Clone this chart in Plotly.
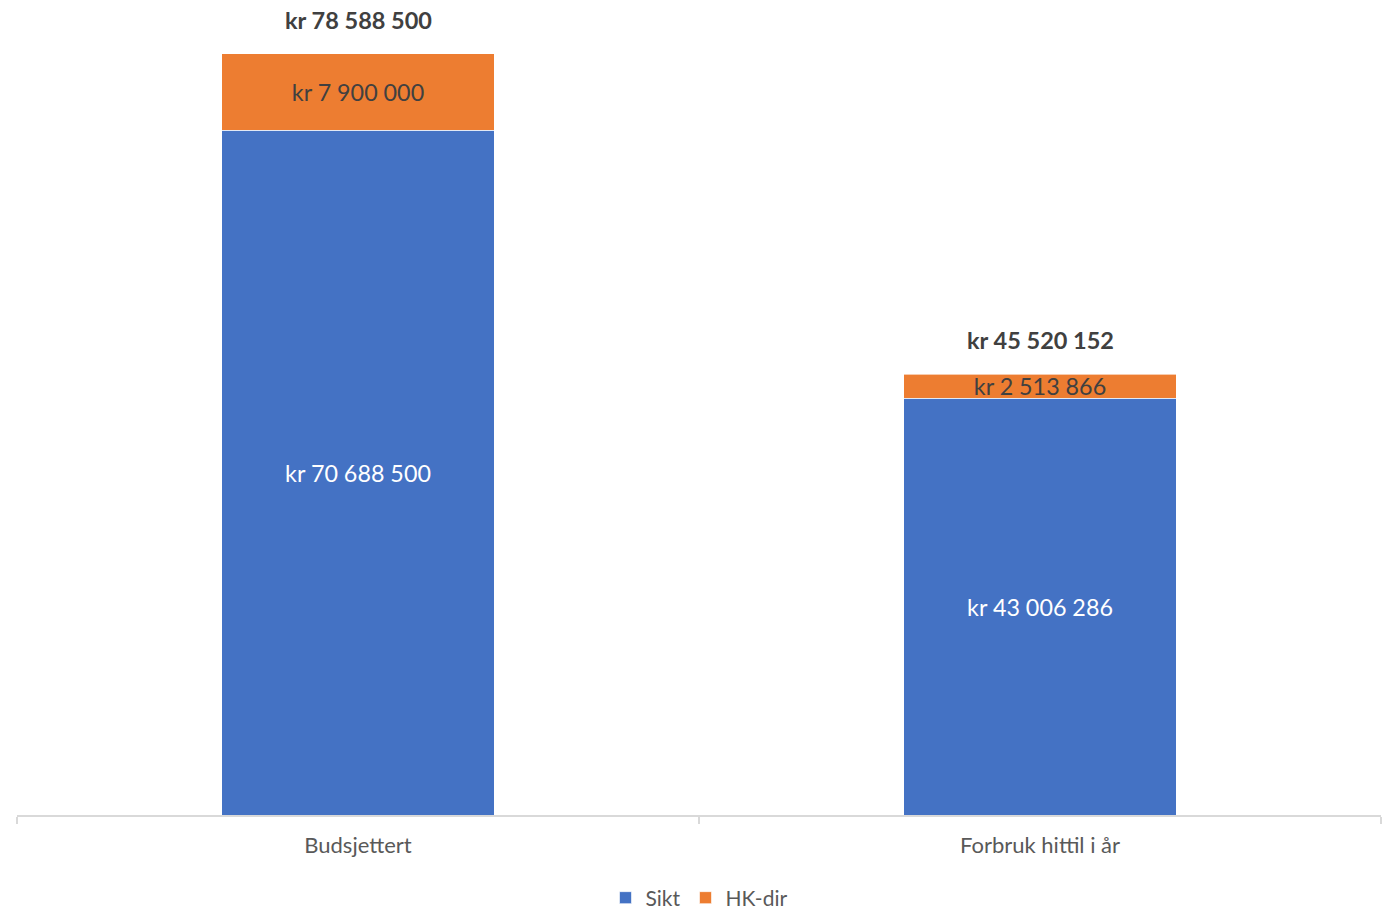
import plotly.graph_objects as go

categories = ["Budsjettert", "Forbruk hittil i år"]
sikt = [70688500, 43006286]
hkdir = [7900000, 2513866]
totals = [s + h for s, h in zip(sikt, hkdir)]

def kr(v):
    return "kr " + f"{v:,}".replace(",", " ")

FONT = "Lato"
fig = go.Figure()
fig.add_trace(go.Bar(
    name="Sikt", x=categories, y=sikt,
    marker=dict(color="#4472C4", line=dict(color="rgba(255,255,255,0.6)", width=1)),
    text=[kr(v) for v in sikt], textposition="inside", insidetextanchor="middle",
    textangle=0, constraintext="none",
    textfont=dict(color="white", size=23.3, family=FONT),
    hoverinfo="skip",
))
fig.add_trace(go.Bar(
    name="HK-dir", x=categories, y=hkdir,
    marker=dict(color="#ED7D31", line=dict(color="rgba(255,255,255,0.6)", width=1)),
    text=[kr(v) for v in hkdir], textposition="inside", insidetextanchor="middle",
    textangle=0, constraintext="none",
    textfont=dict(color="#404040", size=23.3, family=FONT),
    hoverinfo="skip",
))
for c, t in zip(categories, totals):
    fig.add_annotation(x=c, y=t, text="<b>" + kr(t) + "</b>", showarrow=False,
                       yanchor="middle", yshift=34,
                       font=dict(size=23.5, color="#404040", family=FONT))

fig.update_layout(
    barmode="stack", bargap=0.6,
    width=1382, height=911,
    margin=dict(l=17, r=1, t=40, b=96),
    paper_bgcolor="white", plot_bgcolor="white",
    font=dict(family=FONT, color="#595959", size=21),
    showlegend=True,
    legend=dict(orientation="h", x=0.5, xanchor="center", yref="container",
                y=13 / 911, yanchor="middle",
                font=dict(size=21, color="#595959", family=FONT), traceorder="normal",
                itemwidth=30),
    xaxis=dict(showline=True, linecolor="#D9D9D9", linewidth=1.5, ticks="outside",
               tickson="boundaries", ticklen=7, tickcolor="#D9D9D9", tickwidth=1.5,
               tickfont=dict(size=22, color="#595959", family=FONT),
               ticklabelstandoff=10, showgrid=False, automargin=False),
    yaxis=dict(visible=False, range=[0, 80000000], showgrid=False, zeroline=False,
               automargin=False),
)
fig.write_html("out.html", config={"displayModeBar": False},
               post_script="document.body.style.margin='0';document.body.style.overflow='hidden';")
